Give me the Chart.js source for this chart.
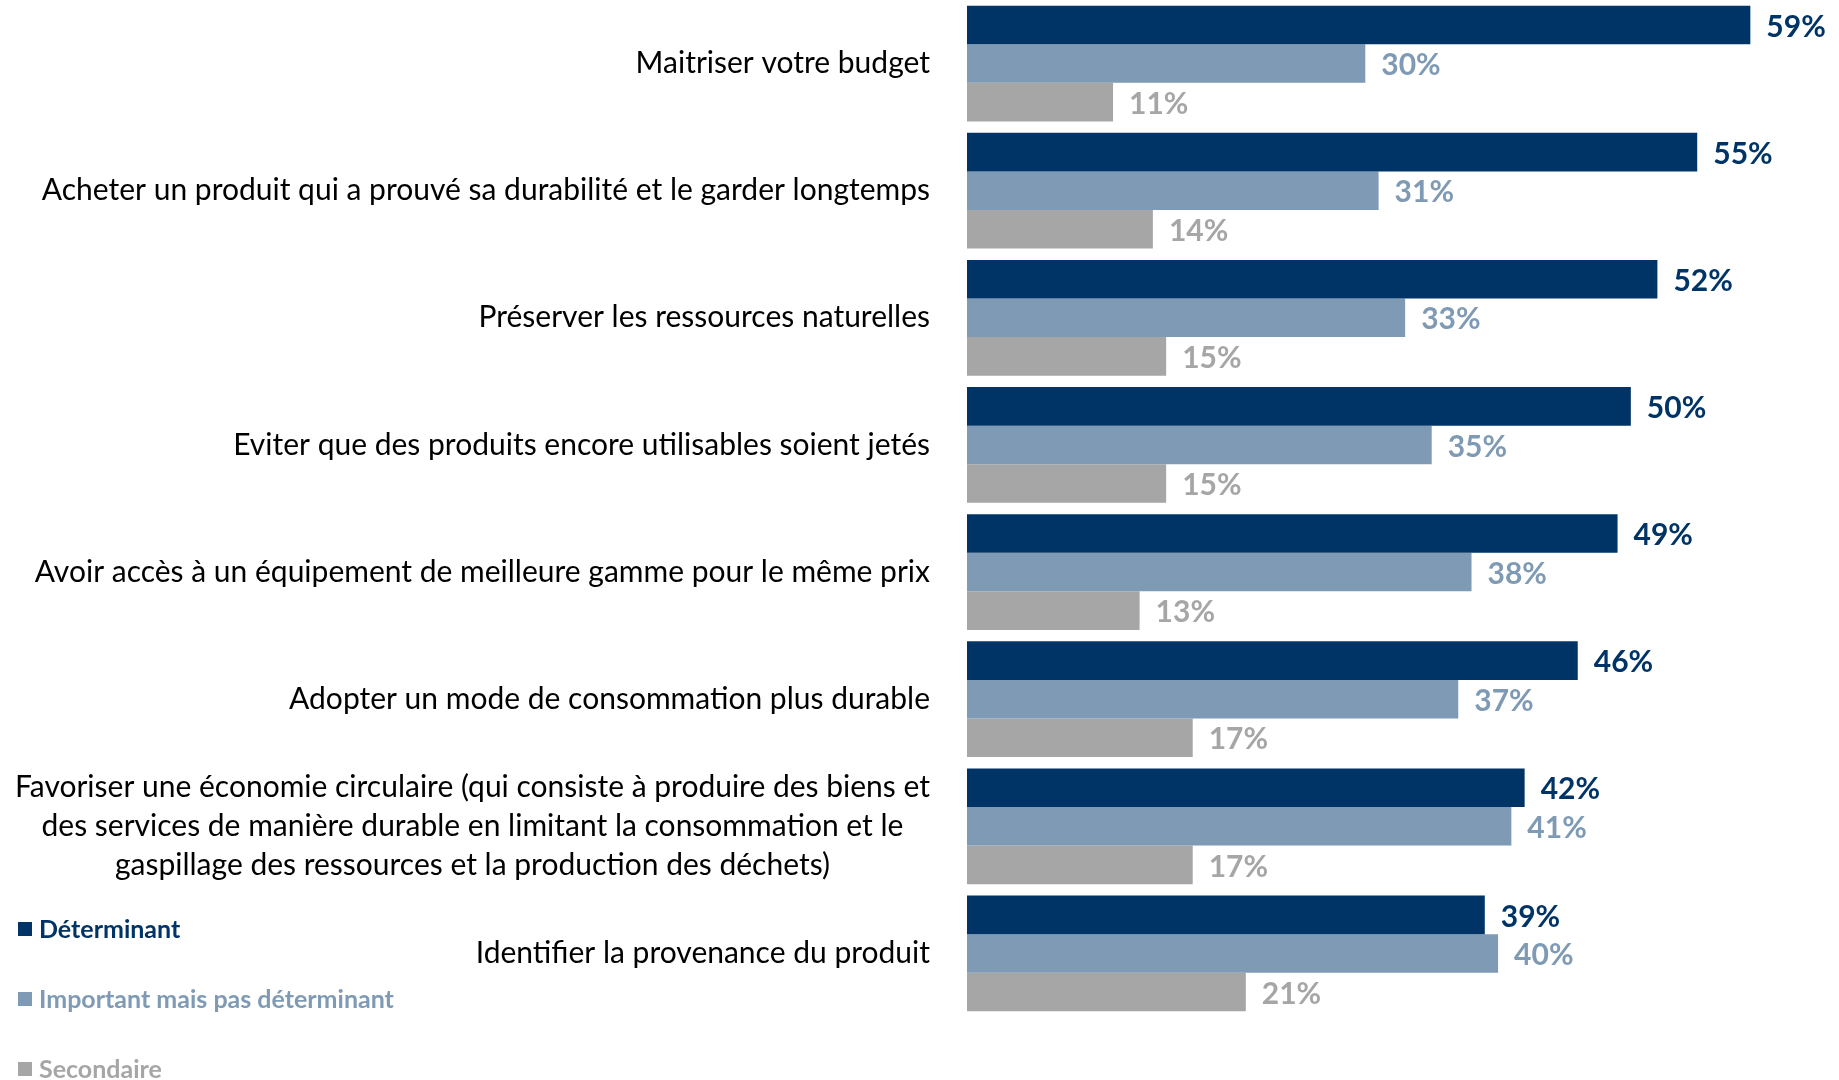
<!DOCTYPE html>
<html>
<head>
<meta charset="utf-8">
<script src="https://cdn.jsdelivr.net/npm/chart.js@4"></script>
<style>
  html, body { margin: 0; padding: 0; background: #fff; }
  #wrap { width: 1839px; height: 1080px; position: relative; }
</style>
</head>
<body>
<div id="wrap"><canvas id="motivChart"></canvas></div>
<script>
// catégories (le 7e libellé est sur 3 lignes)
const categories = [
  ['Maitriser votre budget'],
  ['Acheter un produit qui a prouvé sa durabilité et le garder longtemps'],
  ['Préserver les ressources naturelles'],
  ['Eviter que des produits encore utilisables soient jetés'],
  ['Avoir accès à un équipement de meilleure gamme pour le même prix'],
  ['Adopter un mode de consommation plus durable'],
  ['Favoriser une économie circulaire (qui consiste à produire des biens et',
   'des services de manière durable en limitant la consommation et le',
   'gaspillage des ressources et la production des déchets)'],
  ['Identifier la provenance du produit']
];
const seriesNames = ['Déterminant', 'Important mais pas déterminant', 'Secondaire'];
const determinant = [59, 55, 52, 50, 49, 46, 42, 39];
const important   = [30, 31, 33, 35, 38, 37, 41, 40];
const secondaire  = [11, 14, 15, 15, 13, 17, 17, 21];
const colors = ['#003466', '#7f9ab4', '#a6a6a6'];

const labelFont = '30px Lato, "Liberation Sans", sans-serif';
const valueFont = 'bold 30px Lato, "Liberation Sans", sans-serif';
const legendFont = 'bold 25px Lato, "Liberation Sans", sans-serif';

// libellés des catégories, valeurs et légende
const textPlugin = {
  id: 'texts',
  afterDatasetsDraw(chart) {
    const ctx = chart.ctx;
    const y = chart.scales.y;
    ctx.save();

    // libellés de gauche
    ctx.font = labelFont;
    ctx.fillStyle = '#000';
    ctx.textBaseline = 'middle';
    const lineH = 39;
    categories.forEach((lines, i) => {
      const cy = y.getPixelForValue(i);
      const top = cy - (lines.length - 1) * lineH / 2;
      if (lines.length === 1) {
        ctx.textAlign = 'right';
        ctx.fillText(lines[0], 930, cy);
      } else {
        // bloc centré
        let maxW = 0;
        lines.forEach(l => { maxW = Math.max(maxW, ctx.measureText(l).width); });
        ctx.textAlign = 'center';
        lines.forEach((l, k) => ctx.fillText(l, 930 - maxW / 2, top + k * lineH));
      }
    });

    // valeurs au bout des barres
    ctx.font = valueFont;
    ctx.textAlign = 'left';
    chart.data.datasets.forEach((ds, di) => {
      const meta = chart.getDatasetMeta(di);
      ctx.fillStyle = colors[di];
      meta.data.forEach((bar, i) => {
        ctx.fillText(ds.data[i] + '%', bar.x + 16, bar.y + 2);
      });
    });

    // légende en bas à gauche
    ctx.font = legendFont;
    const legY = [929, 999, 1069];
    seriesNames.forEach((name, i) => {
      ctx.fillStyle = colors[i];
      ctx.fillRect(18, legY[i] - 7, 14, 14);
      ctx.fillText(name, 39, legY[i] + 1);
    });
    ctx.restore();
  }
};

new Chart(document.getElementById('motivChart').getContext('2d'), {
  type: 'bar',
  data: {
    labels: categories.map(c => c.join(' ')),
    datasets: [
      { label: seriesNames[0], data: determinant, backgroundColor: colors[0] },
      { label: seriesNames[1], data: important, backgroundColor: colors[1] },
      { label: seriesNames[2], data: secondaire, backgroundColor: colors[2] }
    ]
  },
  options: {
    indexAxis: 'y',
    responsive: true,
    maintainAspectRatio: false,
    animation: false,
    layout: { padding: { left: 967, right: 9, top: 0, bottom: 63 } },
    datasets: {
      bar: { barPercentage: 1, categoryPercentage: 0.91 }
    },
    scales: {
      x: { display: false, min: 0, max: 65 },
      y: { display: false }
    },
    plugins: {
      legend: { display: false },
      tooltip: { enabled: false }
    }
  },
  plugins: [textPlugin]
});
</script>
</body>
</html>
